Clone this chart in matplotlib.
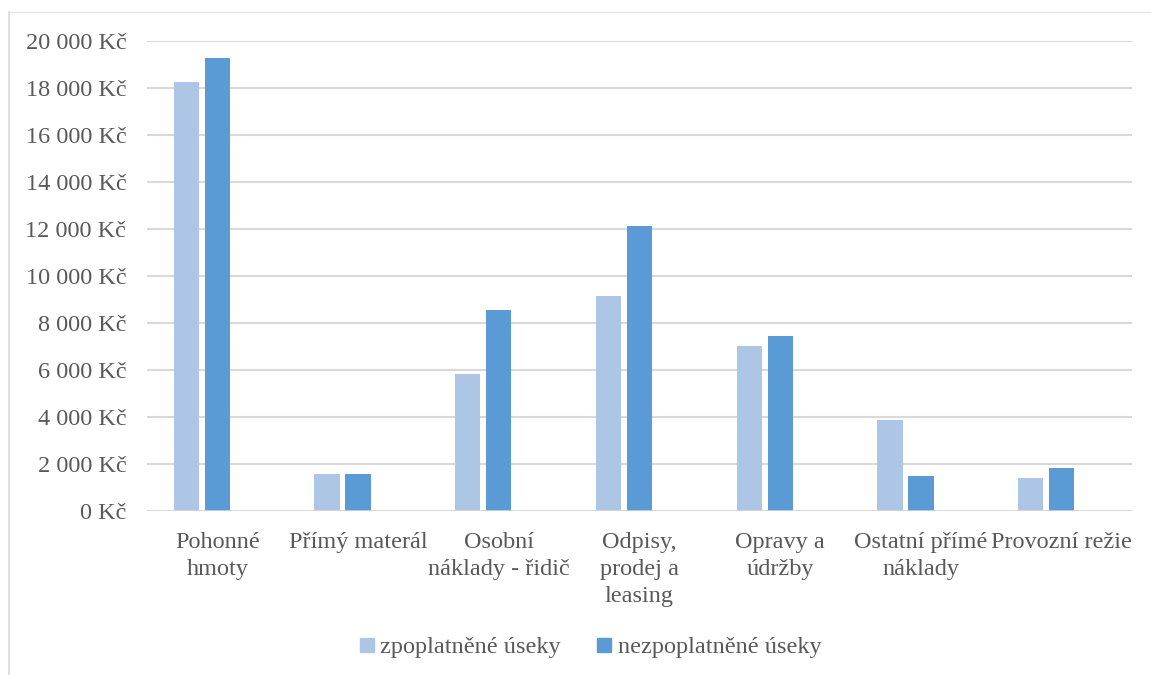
import matplotlib.pyplot as plt
import numpy as np
from matplotlib.lines import Line2D
from matplotlib.ticker import FuncFormatter

# Náklady podle druhu, zpoplatněné vs. nezpoplatněné úseky
kategorie = [
    "Pohonné\nhmoty",
    "Přímý materál",
    "Osobní\nnáklady - řidič",
    "Odpisy,\nprodej a\nleasing",
    "Opravy a\núdržby",
    "Ostatní přímé\nnáklady",
    "Provozní režie",
]
zpoplatnene = [18250, 1580, 5830, 9150, 7020, 3870, 1400]
nezpoplatnene = [19280, 1580, 8550, 12130, 7450, 1490, 1830]

svetla = "#AEC6E6"
tmava = "#5B9BD5"
sediva = "#595959"
fs = 17.5

plt.rcParams["font.family"] = ["Liberation Serif", "DejaVu Serif"]

fig = plt.figure(figsize=(11.51, 6.75), dpi=100)
ax = fig.add_axes([0.1277, 0.2430, 0.8558, 0.6963])

x = np.arange(len(kategorie))
w = 0.18
ax.bar(x - 0.22, zpoplatnene, w, color=svetla, zorder=3)
ax.bar(x, nezpoplatnene, w, color=tmava, zorder=3)

ax.set_xlim(-0.5, len(kategorie) - 0.5)
ax.set_ylim(0, 20000)
ax.set_yticks(np.arange(0, 20001, 2000))
ax.yaxis.set_major_formatter(FuncFormatter(lambda v, p: f"{int(v):,}".replace(",", " ") + " Kč"))
ax.set_xticks(x)
ax.set_xticklabels(kategorie, linespacing=1.38)

ax.grid(axis="y", color="#D9D9D9", linewidth=1.5, zorder=0)
for s in ax.spines.values():
    s.set_visible(False)
ax.axhline(0, color="#D9D9D9", linewidth=1.8, zorder=4)
ax.tick_params(axis="both", length=0, labelsize=fs, colors=sediva)
ax.tick_params(axis="y", pad=15)
ax.tick_params(axis="x", pad=15)

# rámeček grafu
fig.add_artist(Line2D([0.0078, 0.0078], [0, 0.982], color="#D9D9D9", linewidth=1.2))
fig.add_artist(Line2D([0.0078, 1], [0.982, 0.982], color="#E6E6E6", linewidth=1))

h1 = Line2D([], [], marker="s", linestyle="none", markersize=10, color=svetla)
h2 = Line2D([], [], marker="s", linestyle="none", markersize=10, color=tmava)
fig.legend([h1, h2], ["zpoplatněné úseky", "nezpoplatněné úseky"],
           loc="center", bbox_to_anchor=(0.513, 0.041), ncol=2, frameon=False,
           fontsize=fs, labelcolor=sediva, handlelength=0.6, handletextpad=0.25,
           columnspacing=1.5)

fig.savefig("out.png", dpi=100)
